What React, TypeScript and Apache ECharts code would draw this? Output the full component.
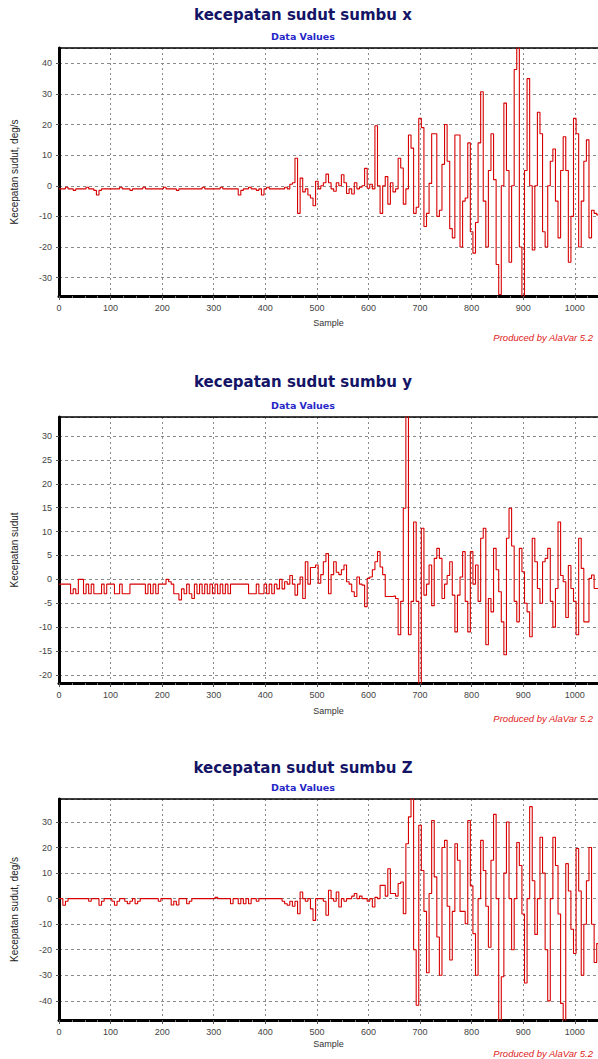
import React, { useEffect, useRef } from "react";
import * as echarts from "echarts";

// sample spacing between stored readings
const STEP = 5;

// kecepatan sudut sumbu x (deg/s), samples 0..1045 every 5
const X_VALUES = [
  -1, -1, -1, -0.5, -1, -1, -1.5, -1, -1, -1, -1, -0.5, -1, -1, -1.5, -3, -1.5, -1, -1, -1,
  -1, -1, -1, -1, -0.5, -1, -1, -1, -1.5, -1, -1, -1, -1, -0.5, -1, -1, -1, -1, -1, -1,
  -1, -0.5, -1, -1, -1, -1, -1.5, -1, -1, -1, -1, -1, -1, -1, -1, -1, -0.5, -1, -1, -1,
  -1, -1, -1, -0.5, -1, -1, -1, -1, -1, -1, -3, -1.5, -1, -1, -0.5, -1, -1, -1.5, -1, -3,
  -1, -0.5, -1, -1, -1, -1, -1, -1, -0.5, -1, 0.5, 1, 9, -9, 2.5, -2, -1, -3, -4, -6.5,
  1.5, -1, 0, 1, 3.8, 1, -1, -1.8, 1, 0, 3.6, 1, -2.5, -1, -2.7, 1, -1, -0.5, 0, 5.7,
  -0.8, 0.5, -1, 19.6, 0, -9, 0, 3, -6, 1, -2, -1, 9, 5.8, -6, -1, 16.6, 12.3, -9, -7,
  22, 19, -13.3, -9, 0.8, 17, 17, -10, -8, 7, 20, 8, -14, -17, 16.6, 16.6, -20, -5, -4, 14,
  -15, -22, -12, 14, 30.7, -5, -20, 5, 17, 2, -25.7, -35.5, 0, 27, 5, -25, 0, 38, 46, -20,
  -37, 5, 35, 0, -21, 0, 24, 17, -15, -20, 0, 8, 12, -5, -17, 5, 16, 5, -25, -10,
  22, 17, -20, -5, 8, 15, -17, -8, -9, -9.5,
];

// kecepatan sudut sumbu y
const Y_VALUES = [
  -1, -1, -1, -1, -1, -3, -2, -3, 0, 0, -3, -1, -3, -1, -3, -3, -3, -1, -3, -1,
  -1, -1, -3, -3, -1, -3, -3, -3, -1, -1, -1, -1, -1, -1, -3, -1, -3, -1, -3, -1,
  -1, -1, 0, -0.5, -1, -3, -3, -4.3, -2, -3, -1, -3, -4, -1, -3, -1, -3, -1, -3, -1,
  -3, -1, -3, -1, -3, -1, -3, -1, -1, -1, -1, -1, -1, -1, -3, -3, -3, -1, -3, -3,
  -1, -3, -1, -3, -1, -2, 0, -2, -0.5, -1, 0.8, -1, -3.3, -1, 0.5, -4, 3.7, -1, 2.5, 2.5,
  3, -0.8, 1, 3.7, 5.4, -3, 1, 3.7, 1.5, 1, 2, 3, -0.5, -1, -2.6, -3.6, 0.5, -1, -1.2, -5.7,
  0.2, 0.5, 2, 3.7, 5.8, 2.6, 1, -3.6, -3.6, -3.6, -3.5, -4, -11.6, -4.6, 14.9, 35, -11.6, -4.6, 12, -4.6,
  -22, 10.7, -3.3, -1, 3, -5.5, 4.4, 6.5, 4.4, -4, -1, 0.8, 3.7, -3.3, -11, -3.3, 0.5, 5.8, -4.6, -11,
  5.8, -1, 3, -4.6, 8.6, 10.7, -13.7, -4, -6.8, 6.5, 2, -2.6, -8.9, -15.8, 8.6, 14.9, 7, -4.6, -8.9, 6.5,
  1.6, -5, -6.8, -12, 8.6, 3.7, -1.9, -5, 3.7, 4.4, 6.5, -4.6, -10, -1.9, 12, 0.8, -0.5, -8, 2.9, -1.9,
  -4.6, -11.6, 8.6, 2.3, -8.9, -8.9, 0.2, 0.9, -1.9, -1.9,
];

// kecepatan sudut sumbu Z
const Z_VALUES = [
  0, 0, -2.6, -1, 0, 0, 0, 0, 0, 0, 0, 0, -1, 0, 0, 0, -2.6, -1, 0, 0,
  0, -1, -2.6, -1, 0, 0, -1, -2, -1, 0, -2, -1, 0, 0, 0, 0, 0, 0, 0, -1,
  0, 0, 0, 0, -2.5, -1, -2.5, 0, 0, 0, -2, -1, 0, 0, 0, 0, 0, 0, 0, 0,
  0, 0.5, 0, 0, 0, 0, 0, -2, 0, 0, -2, 0, -2, 0, -2, 0, 0, -1, 0, 0,
  0, 0, 0, 0, 0, 0, 0, -1, -2, -2.6, -1, -3, -1, -5.9, 2.6, 0, -1, 0, -4, -8.5,
  0, 0, 0, -1, -6.5, 3.3, 0, -1, 2.6, -3.3, 0, -1, 0, 0, 1, 2, 0, 1, 0, 0,
  -1, 0, -3.3, 0.5, 0, 5.2, 5.2, 1, 11.7, 2, 2, 1, 5.9, 6.5, -5.9, 21.5, 32, 40, -20, -41.7,
  28.7, 11, -5, -29, 2, 30.6, 8.5, -15, -30, 20, 22.8, -3, -24, -5, 21.5, 15, -5, -5, -9.8, 30.6,
  5, -13.7, -30, 0, 22.8, 11, -3, -19, 15, 33, 0, -48, -30.6, 10, 30, 0, -20, 0, 22, 13,
  -6, -33, 0, 36, 7, -14, 0, 24, 10, -20, -40, 0, 24, 13, -6, -41, -48, 13.7, 3, -12,
  -21.5, 19.6, 3, -30, -10, 7, 20, -10, -25, -17.6,
];

const TITLES = ["kecepatan sudut sumbu x", "kecepatan sudut sumbu y", "kecepatan sudut sumbu Z"];
const SUBTITLE = "Data Values";
const Y_NAMES = ["Kecepatan sudut, deg/s", "Kecepatan sudut", "Kecepatan sudut, deg/s"];
const X_NAME = "Sample";
const CREDIT = "Produced by AlaVar 5.2";
const Y_RANGES = [
  [-36, 45],
  [-21.7, 34],
  [-47.5, 39],
];
const X_RANGE = [0, 1045];
const X_INTERVAL = 100;

// layout (pixels)
const LAYOUT = [
  { top: 48, height: 248, titleY: 15, subY: 36, creditY: 337, nameGap: 22, split: 8 },
  { top: 417, height: 266, titleY: 382, subY: 405, creditY: 718, nameGap: 23, split: 11 },
  { top: 799, height: 221, titleY: 768, subY: 787, creditY: 1053, nameGap: 19, split: 9 },
];

const SERIES = [X_VALUES, Y_VALUES, Z_VALUES];
const LABEL_FONT = "'Liberation Sans', Arial, sans-serif";

export default function App() {
  const ref = useRef<HTMLDivElement>(null);
  useEffect(() => {
    if (!ref.current) return;
    const chart = echarts.init(ref.current, undefined, { renderer: "svg" });
    const grids: any[] = [];
    const xAxes: any[] = [];
    const yAxes: any[] = [];
    const series: any[] = [];
    const graphics: any[] = [];
    LAYOUT.forEach((L, i) => {
      grids.push({ left: 59, width: 539, top: L.top, height: L.height, show: true, backgroundColor: "#fff", borderWidth: 0 });
      xAxes.push({
        gridIndex: i,
        type: "value",
        min: X_RANGE[0],
        max: X_RANGE[1],
        interval: X_INTERVAL,
        position: "bottom",
        name: X_NAME,
        nameLocation: "middle",
        nameGap: L.nameGap,
        nameTextStyle: { fontSize: 9, color: "#333", fontFamily: LABEL_FONT },
        axisLine: { show: true, onZero: false, lineStyle: { color: "#000", width: 3 } },
        axisTick: { show: true, length: 4, lineStyle: { color: "#555" } },
        minorTick: { show: true, splitNumber: 4, length: 2, lineStyle: { color: "#777" } },
        axisLabel: {
          fontSize: 9,
          color: "#444",
          margin: 7,
          showMaxLabel: false,
          fontFamily: LABEL_FONT,
          formatter: (v: number) => String(v),
        },
        splitLine: { show: true, lineStyle: { color: "#8a8a8a", type: [2, 3], width: 1 } },
      });
      xAxes.push({
        gridIndex: i,
        type: "value",
        min: X_RANGE[0],
        max: X_RANGE[1],
        position: "top",
        axisLine: { show: true, onZero: false, lineStyle: { color: "#000", width: 1.5 } },
        axisTick: { show: false },
        axisLabel: { show: false },
        splitLine: { show: false },
      });
      yAxes.push({
        gridIndex: i,
        type: "value",
        min: Y_RANGES[i][0],
        max: Y_RANGES[i][1],
        splitNumber: L.split,
        name: Y_NAMES[i],
        nameLocation: "middle",
        nameGap: 40,
        nameRotate: 90,
        nameTextStyle: { fontSize: 10, color: "#222", fontFamily: LABEL_FONT },
        axisLine: { show: true, onZero: false, lineStyle: { color: "#000", width: 3 } },
        axisTick: { show: true, length: 3, lineStyle: { color: "#555" } },
        axisLabel: { fontSize: 9, color: "#444", margin: 7, showMinLabel: false, showMaxLabel: false, fontFamily: LABEL_FONT },
        splitLine: { show: true, lineStyle: { color: "#8a8a8a", type: [3, 3], width: 1 } },
      });
      series.push({
        type: "line",
        xAxisIndex: i * 2,
        yAxisIndex: i,
        step: "middle",
        showSymbol: false,
        symbol: "none",
        clip: true,
        lineStyle: { color: "#d80000", width: 1.1 },
        data: SERIES[i].map((v, k) => [k * STEP, v]),
      });
      graphics.push({
        type: "text",
        x: 303,
        y: L.titleY,
        style: {
          text: TITLES[i],
          fill: "#141466",
          font: "bold 15px 'DejaVu Sans', Verdana, sans-serif",
          textAlign: "center",
          textVerticalAlign: "middle",
        },
      });
      graphics.push({
        type: "text",
        x: 303,
        y: L.subY,
        style: {
          text: SUBTITLE,
          fill: "#2626c8",
          font: "bold 9.5px 'DejaVu Sans', Verdana, sans-serif",
          textAlign: "center",
          textVerticalAlign: "middle",
        },
      });
      graphics.push({
        type: "text",
        x: 593,
        y: L.creditY,
        style: {
          text: CREDIT,
          fill: "#e02020",
          font: "italic 9.5px 'Liberation Sans', Arial, sans-serif",
          textAlign: "right",
          textVerticalAlign: "middle",
        },
      });
    });
    chart.setOption({
      animation: false,
      backgroundColor: "#fff",
      grid: grids,
      xAxis: xAxes,
      yAxis: yAxes,
      series,
      graphic: graphics,
    });
    return () => chart.dispose();
  }, []);
  return (
    <div
      ref={ref}
      style={{ position: "fixed", left: 0, top: 0, width: 598, height: 1059, background: "#fff" }}
    />
  );
}
